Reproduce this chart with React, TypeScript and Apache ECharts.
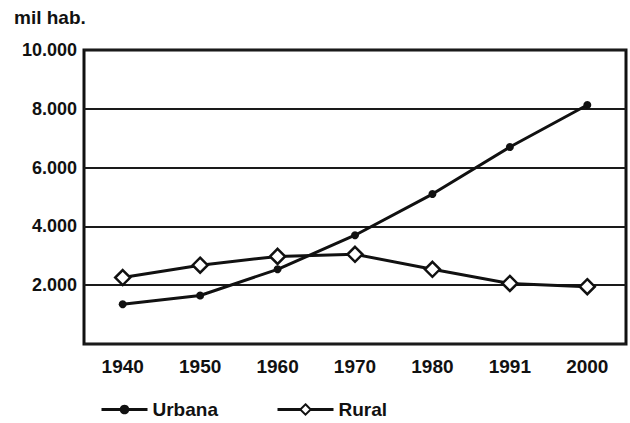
import React, { useEffect, useRef } from "react";
import * as echarts from "echarts";

const years = ["1940", "1950", "1960", "1970", "1980", "1991", "2000"];
const urbana = [1350, 1650, 2540, 3700, 5100, 6700, 8130];
const rural = [2260, 2680, 2980, 3050, 2540, 2060, 1950];

const FONT = "'Liberation Sans', Arial, sans-serif";
const legendText = { fontFamily: FONT, fontWeight: "bold", fontSize: 19, color: "#111" };

export default function App() {
  const ref = useRef<HTMLDivElement>(null);
  useEffect(() => {
    if (!ref.current) return;
    const chart = echarts.init(ref.current, null, { renderer: "svg" });
    chart.setOption({
      animation: false,
      backgroundColor: "#fff",
      textStyle: { fontFamily: FONT },
      graphic: [
        {
          type: "text",
          left: 14,
          top: 8,
          style: { text: "mil hab.", font: `bold 19px ${FONT}`, fill: "#111" },
        },
      ],
      grid: {
        left: 84,
        right: 4,
        top: 50,
        bottom: 79,
        show: true,
        borderColor: "#111",
        borderWidth: 3,
        backgroundColor: "transparent",
      },
      legend: [
        {
          left: 95,
          top: 395,
          itemWidth: 46,
          itemHeight: 12,
          lineStyle: { width: 3 },
          textStyle: legendText,
          data: ["Urbana"],
        },
        {
          left: 271,
          top: 395,
          itemWidth: 56,
          itemHeight: 13,
          lineStyle: { width: 3 },
          textStyle: legendText,
          data: ["Rural"],
        },
      ],
      xAxis: {
        type: "category",
        data: years,
        boundaryGap: true,
        axisLine: { show: false },
        axisTick: { show: false },
        axisLabel: {
          margin: 13,
          fontFamily: FONT,
          fontWeight: "bold",
          fontSize: 19,
          color: "#111",
        },
      },
      yAxis: {
        type: "value",
        min: 0,
        max: 10000,
        interval: 2000,
        axisLine: { show: false },
        axisTick: { show: false },
        splitLine: { lineStyle: { color: "#1a1a1a", width: 2 } },
        axisLabel: {
          margin: 7,
          fontFamily: FONT,
          fontWeight: "bold",
          fontSize: 18,
          color: "#111",
          formatter: (v: number) => (v === 0 ? "" : (v / 1000).toFixed(3)),
        },
      },
      series: [
        {
          name: "Urbana",
          type: "line",
          data: urbana,
          symbol: "circle",
          symbolSize: 8,
          lineStyle: { color: "#111", width: 3 },
          itemStyle: { color: "#111" },
        },
        {
          name: "Rural",
          type: "line",
          data: rural,
          symbol: "diamond",
          symbolSize: 15,
          lineStyle: { color: "#111", width: 3 },
          itemStyle: { color: "#fff", borderColor: "#111", borderWidth: 2.5 },
        },
      ],
    });
    return () => chart.dispose();
  }, []);
  return <div ref={ref} style={{ width: 630, height: 423, position: "absolute", left: 0, top: 0 }} />;
}
